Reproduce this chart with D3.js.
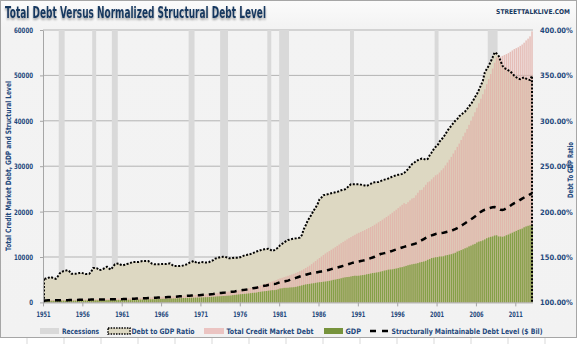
<!DOCTYPE html>
<html lang="en">
<head>
<meta charset="UTF-8">
<title>Total Debt Versus Normalized Structural Debt Level</title>
<style>
  body { margin: 0; background: #ffffff; }
  svg text {
    font-family: "Liberation Sans Narrow", "DejaVu Sans Condensed", "Open Sans", sans-serif;
    font-weight: bold;
    fill: #1f497d;
  }
  .tick text { font-size: 7.5px; }
  .legend text { font-size: 7.5px; }
  .grid line { stroke: #b3b3b3; stroke-width: 1; }
  .axis path, .axis line { stroke: #a6a6a6; }
</style>
</head>
<body>
<div id="chart"></div>
<script src="https://d3js.org/d3.v7.min.js"></script>
<script>
// quarterly values, one row per year starting 1951 (Q1..Q4)
var startYear = 1951;

var debtToGdp = [
  [127,126,126.5,128],[127.5,126.5,126,128.5],[132,133.5,134.5,135],[135.5,134,131.5,131.5],
  [131.5,131.8,132.3,132.7],[132,131.3,131.3,131.5],[134,137.9,137.9,137.5],[135.6,136,136.8,138],
  [139.3,137.5,136.1,139],[141.9,142.5,142.9,141.5],[140.8,141.5,142.3,142.6],[143.5,144.5,144.5,144.5],
  [144.5,145,145.6,145.6],[145.6,145.6,144,142.5],[141.9,141.9,141.9,142],[142.3,142.3,142.3,142.5],
  [143,141.5,140,140],[140,140,140.2,140.8],[141.5,142.5,143.8,144.5],[145.6,144.5,143,143.8],
  [144.5,144.2,143.9,143.8],[144.5,145.6,146.5,148.2],[148.8,149.5,150,150.2],[150.3,149.5,148.5,148.6],
  [149,149.3,149.3,149.3],[150,151,151.8,152.2],[152.9,153.4,154,155],[156,156.6,157.5,158.2],
  [158.5,158.8,159.1,158],[156.6,157.5,159,160.3],[163,164.5,166,167.5],[168.7,169.2,169.8,170.2],
  [170.5,171,171.3,174],[180.5,185,190,193.4],[197,201,204.4,208],[213.6,215.5,218,218.5],
  [219,219.6,220.2,220.8],[221.2,221.7,222.5,223.5],[224.2,224.6,226,228.5],[230.1,230.1,230.1,230.1],
  [230.1,229.7,229.2,228.8],[228.3,229.5,230.5,232],[232.2,232.4,232.7,233.5],[234.5,235.2,235.7,236.5],
  [237.5,238.5,239.3,240],[240.6,240.8,241.5,242.5],[244.5,246.7,249.5,252.2],[253.5,255.5,256.6,257.5],
  [258.5,258,257,258],[262,265.1,268.5,271.3],[273,277,279.5,282],[285.3,289,292,294.5],
  [297.5,300,302,305],[306.6,308.5,310.3,313],[316,318.4,322,326],[329.4,334,339,344],
  [353.3,357,360.6,365],[369.9,375.4,374,371.7],[366,360.6,358,357],[355.5,354.4,352,349.6],
  [348,346.5,345.9,347],[347.8,346.5,345.5,344.8],[349.6]
];

var creditMarketDebt = [
  [485,490,495,500],[509,518,526,535],[543,550,558,565],[572,580,588,595],
  [609,622,636,650],[659,668,676,685],[694,702,711,720],[731,742,754,765],
  [780,795,810,825],[835,845,855,865],[879,892,906,920],[936,952,969,985],
  [1003,1020,1038,1055],[1074,1092,1111,1130],[1150,1170,1190,1210],[1229,1248,1266,1285],
  [1305,1325,1345,1365],[1391,1418,1444,1470],[1494,1518,1541,1565],[1589,1612,1636,1660],
  [1698,1735,1773,1810],[1858,1905,1953,2000],[2058,2115,2173,2230],[2285,2340,2395,2450],
  [2508,2565,2623,2680],[2758,2835,2913,2990],[3085,3180,3275,3370],[3483,3595,3708,3820],
  [4050,4180,4310,4450],[4600,4750,4900,5100],[5286,5423,5561,5698],[5850,6001,6152,6303],
  [6493,6683,6873,7062],[7321,7579,7838,8096],[8435,8773,9111,9449],[9777,10104,10431,10758],
  [11033,11308,11583,11858],[12153,12447,12741,13035],[13313,13591,13869,14146],[14394,14641,14889,15136],
  [15334,15532,15730,15928],[16151,16374,16597,16819],[17094,17369,17644,17919],[18211,18502,18794,19085],
  [19415,19745,20075,20405],[20768,21131,21494,21857],[21668,22074,22481,22887],[23024,23588,24153,24717],
  [24800,25353,25908,26461],[26653,27101,27550,27999],[28200,28600,29100,29540],[30168,30795,31423,32050],
  [32780,33510,34240,34970],[35775,36580,37385,38190],[39110,40030,40950,41870],[42865,43860,44855,45850],
  [46960,48070,49190,50300],[51500,52800,54000,54300],[54100,54300,54500,54700],[54900,55200,55500,55800],
  [56000,56200,56500,56800],[57200,57700,58100,58600],[59700]
];

var gdp = [
  [336,344,351,357],[360,361,368,381],[389,392,391,385],[386,386,391,400],
  [413,422,431,438],[441,447,452,462],[470,473,480,475],[467,471,485,499],
  [511,524,525,529],[543,542,546,541],[545,555,567,580],[594,603,610,613],
  [622,630,644,652],[669,679,692,698],[718,731,750,773],[797,806,820,832],
  [845,850,866,882],[910,935,950,965],[988,1003,1023,1031],[1038,1051,1068,1068],
  [1107,1124,1142,1152],[1185,1218,1243,1282],[1327,1357,1382,1420],[1435,1465,1494,1525],
  [1610,1650,1709,1758],[1812,1843,1877,1922],[1973,2035,2098,2130],[2166,2284,2338,2409],
  [2461,2510,2578,2632],[2700,2699,2770,2877],[3066,3110,3201,3216],[3233,3292,3320,3357],
  [3423,3531,3643,3752],[3865,3964,4031,4086],[4171,4222,4311,4383],[4449,4486,4555,4598],
  [4668,4749,4838,4965],[5025,5128,5204,5316],[5437,5523,5586,5620],[5722,5817,5876,5857],
  [5885,5955,6024,6080],[6193,6271,6361,6466],[6511,6591,6653,6774],[6877,7009,7087,7212],
  [7248,7282,7385,7465],[7565,7707,7775,7902],[8040,8183,8296,8393],[8480,8543,8660,8811],
  [8912,9011,9155,9384],[9537,9772,9842,9945],[9981,10106,10115,10161],[10339,10428,10535,10624],
  [10767,10921,11194,11358],[11526,11710,11915,12082],[12338,12506,12726,12889],[13200,13390,13486,13667],
  [13874,14135,14310,14444],[14534,14735,14789,14525],[14518,14459,14571,14795],[14943,15161,15348,15558],
  [15749,15964,16111,16257],[16543,16732,16876,16978],[17000]
];

var structuralDebt = [
  [440,445,450,455],[460,465,470,480],[490,495,500,500],[500,505,510,520],
  [535,550,560,570],[580,590,600,610],[620,625,635,630],[625,630,645,660],
  [680,695,700,705],[720,720,725,720],[725,740,760,780],[800,815,830,840],
  [855,870,890,905],[925,945,965,980],[1005,1025,1055,1090],[1125,1140,1160,1180],
  [1200,1210,1235,1260],[1300,1340,1365,1390],[1425,1450,1480,1495],[1510,1535,1560,1565],
  [1625,1660,1690,1710],[1760,1815,1860,1920],[1990,2040,2080,2140],[2170,2220,2270,2320],
  [2360,2420,2510,2590],[2670,2720,2770,2840],[2920,3015,3110,3160],[3215,3390,3475,3580],
  [3665,3740,3845,3925],[4030,4030,4135,4290],[4450,4500,4600,4700],[4800,4950,5100,5250],
  [5400,5550,5700,5830],[5950,6080,6200,6330],[6420,6500,6580,6660],[6740,6820,6900,6990],
  [7090,7200,7320,7440],[7560,7680,7800,7920],[8050,8180,8320,8460],[8600,8750,8850,8920],
  [9000,9100,9200,9300],[9450,9600,9750,9900],[10050,10250,10450,10650],[10750,10850,10950,11050],
  [11200,11350,11500,11650],[11800,11950,12100,12230],[12360,12480,12600,12720],[12850,13000,13200,13450],
  [13700,13950,14200,14450],[14600,14750,14900,15050],[15150,15250,15300,15350],[15450,15550,15650,15750],
  [15950,16150,16350,16600],[16850,17150,17450,17750],[18050,18300,18600,18900],[19250,19600,19950,20200],
  [20400,20550,20700,20850],[20950,21000,20900,20600],[20400,20350,20500,20750],[21000,21300,21600,21850],
  [22050,22300,22600,22850],[23100,23350,23550,23800],[24050]
];

var recessions = [
  [1953.0,1953.75],[1957.25,1957.75],[1959.75,1960.5],[1969.5,1970.25],[1973.5,1974.5],
  [1979.5,1980.0],[1981.0,1982.25],[1990.0,1990.5],[2000.75,2001.25],[2007.5,2008.75]
];

var tickYears = [1951,1956,1961,1966,1971,1976,1981,1986,1991,1996,2001,2006,2011];
var leftTicks = [0,10000,20000,30000,40000,50000,60000];
var rightTicks = [100,150,200,250,300,350,400];

var legendItems = ['Recessions','Debt to GDP Ratio','Total Credit Market Debt','GDP',
  'Structurally Maintainable Debt Level ($ Bil)'];

function toQuarters(rows) {
  var out = [];
  rows.forEach(function(r, i) {
    r.forEach(function(v, q) { out.push({ t: startYear + i + q / 4, v: v }); });
  });
  return out;
}

var ratioQ = toQuarters(debtToGdp);
var debtQ = toQuarters(creditMarketDebt);
var gdpQ = toQuarters(gdp);
var structQ = toQuarters(structuralDebt);

var width = 580, height = 344;
var plotLeft = 43, plotRight = 533, plotTop = 30, plotBottom = 302.4;

var x = d3.scaleLinear().domain([1951, 2013.25]).range([plotLeft, plotRight]);
var y = d3.scaleLinear().domain([0, 60000]).range([plotBottom, plotTop]);
var y2 = d3.scaleLinear().domain([100, 400]).range([plotBottom, plotTop]);
var band = x(startYear + 0.25) - x(startYear);

var svg = d3.select('#chart').append('svg')
  .attr('width', width)
  .attr('height', height);

// sheet cells under the chart
var cellX = [27,64,101,138,175,212,249,286,323,360,397,434,471,508,545];
svg.selectAll('.cell').data(cellX).enter().append('line')
  .attr('x1', function(d) { return d; }).attr('x2', function(d) { return d; })
  .attr('y1', 338).attr('y2', height)
  .attr('stroke', '#d9d9d9');

var defs = svg.append('defs');
var grad = defs.append('linearGradient').attr('id', 'bg').attr('x1', 0).attr('x2', 0).attr('y1', 0).attr('y2', 1);
grad.append('stop').attr('offset', '0%').attr('stop-color', '#fbfbfb');
grad.append('stop').attr('offset', '8%').attr('stop-color', '#f3f3f3');
grad.append('stop').attr('offset', '100%').attr('stop-color', '#f2f2f2');
var shadow = defs.append('filter').attr('id', 'shadow').attr('x', '-5%').attr('y', '-20%').attr('width', '110%').attr('height', '180%');
shadow.append('feGaussianBlur').attr('in', 'SourceAlpha').attr('stdDeviation', 1.2).attr('result', 'b');
shadow.append('feOffset').attr('in', 'b').attr('dy', 2).attr('result', 'o');
shadow.append('feComponentTransfer').attr('in', 'o').attr('result', 's')
  .append('feFuncA').attr('type', 'linear').attr('slope', 0.35);
var merge = shadow.append('feMerge');
merge.append('feMergeNode').attr('in', 's');
merge.append('feMergeNode').attr('in', 'SourceGraphic');

svg.append('rect')
  .attr('x', 0.5).attr('y', 0.5)
  .attr('width', 576).attr('height', 337)
  .attr('fill', 'url(#bg)')
  .attr('stroke', '#a6a6a6');

// title
svg.append('text')
  .attr('x', 5).attr('y', 18)
  .attr('textLength', 261).attr('lengthAdjust', 'spacingAndGlyphs')
  .style('font-size', '15px')
  .style('fill', '#17375e')
  .attr('filter', 'url(#shadow)')
  .text('Total Debt Versus Normalized Structural Debt Level');
svg.append('text')
  .attr('x', 570).attr('y', 14)
  .attr('text-anchor', 'end')
  .style('font-size', '6.6px')
  .style('fill', '#17375e')
  .text('STREETTALKLIVE.COM');

// gridlines
svg.append('g').attr('class', 'grid')
  .selectAll('line').data(leftTicks.slice(1)).enter().append('line')
  .attr('x1', plotLeft).attr('x2', plotRight)
  .attr('y1', function(d) { return y(d); }).attr('y2', function(d) { return y(d); });

// recessions
svg.selectAll('.recession').data(recessions).enter().append('rect')
  .attr('class', 'recession')
  .attr('x', function(d) { return x(d[0]); })
  .attr('width', function(d) { return x(d[1]) - x(d[0]); })
  .attr('y', plotTop).attr('height', plotBottom - plotTop)
  .attr('fill', '#d9d9d9');

// debt to GDP ratio area
var area = d3.area()
  .x(function(d) { return x(d.t + 0.125); })
  .y0(plotBottom)
  .y1(function(d) { return y2(d.v); });
svg.append('path').datum(ratioQ)
  .attr('d', area)
  .attr('fill', '#ddd8c2');

// total credit market debt bars
svg.selectAll('.debt').data(debtQ).enter().append('rect')
  .attr('class', 'debt')
  .attr('x', function(d) { return x(d.t) + 0.25; })
  .attr('width', band - 0.5)
  .attr('y', function(d) { return y(d.v); })
  .attr('height', function(d) { return plotBottom - y(d.v); })
  .attr('fill', '#e2aea6')
  .attr('fill-opacity', 0.78);

// GDP bars
svg.selectAll('.gdp').data(gdpQ).enter().append('rect')
  .attr('class', 'gdp')
  .attr('x', function(d) { return x(d.t) + 0.25; })
  .attr('width', band - 0.5)
  .attr('y', function(d) { return y(d.v); })
  .attr('height', function(d) { return plotBottom - y(d.v); })
  .attr('fill', '#84a047');

// structural debt level
var line = d3.line()
  .x(function(d) { return x(d.t + 0.125); })
  .y(function(d) { return y(d.v); });
svg.append('path').datum(structQ)
  .attr('d', line)
  .attr('fill', 'none')
  .attr('stroke', '#000')
  .attr('stroke-width', 2.5)
  .attr('stroke-dasharray', '6,5');

// ratio outline, dotted, with the area's side edges
var ratioLine = d3.line()
  .x(function(d) { return x(d.t + 0.125); })
  .y(function(d) { return y2(d.v); });
var first = ratioQ[0], last = ratioQ[ratioQ.length - 1];
svg.append('path')
  .attr('d', 'M' + x(first.t + 0.125) + ',' + plotBottom + 'L' + ratioLine(ratioQ).slice(1) +
    'L' + x(last.t + 0.125) + ',' + plotBottom)
  .attr('fill', 'none')
  .attr('stroke', '#000')
  .attr('stroke-width', 2)
  .attr('stroke-dasharray', '2,1.6');

// axes
var xAxis = svg.append('g').attr('class', 'axis')
  .attr('transform', 'translate(0,' + plotBottom + ')')
  .call(d3.axisBottom(x).tickValues(tickYears).tickFormat(d3.format('d')).tickSize(4).tickSizeOuter(0));
xAxis.select('.domain').attr('d', 'M' + plotLeft + ',0.5H' + plotRight);
xAxis.selectAll('text').attr('dy', '1.05em')
  .attr('textLength', 14).attr('lengthAdjust', 'spacingAndGlyphs');

var yAxis = svg.append('g').attr('class', 'axis')
  .attr('transform', 'translate(' + plotLeft + ',0)')
  .call(d3.axisLeft(y).tickValues(leftTicks).tickFormat(d3.format('d')).tickSize(3).tickSizeOuter(0));
yAxis.selectAll('text').attr('x', -10)
  .attr('textLength', function(d) { return String(d).length * 3.8; })
  .attr('lengthAdjust', 'spacingAndGlyphs');

var y2Axis = svg.append('g').attr('class', 'axis')
  .attr('transform', 'translate(' + plotRight + ',0)')
  .call(d3.axisRight(y2).tickValues(rightTicks).tickFormat(function(d) { return d.toFixed(2) + '%'; })
    .tickSize(0).tickSizeOuter(0));
y2Axis.select('.domain').remove();
y2Axis.selectAll('text').attr('x', 7);

// axis titles
svg.append('text')
  .attr('transform', 'translate(11,166) rotate(-90)')
  .attr('text-anchor', 'middle')
  .attr('textLength', 170).attr('lengthAdjust', 'spacingAndGlyphs')
  .style('font-size', '7.5px')
  .text('Total Credit Market Debt, GDP and Structural Level');
svg.append('text')
  .attr('transform', 'translate(573,170) rotate(-90)')
  .attr('text-anchor', 'middle')
  .attr('textLength', 56).attr('lengthAdjust', 'spacingAndGlyphs')
  .style('font-size', '7.5px')
  .text('Debt To GDP Ratio');

// legend
var legendY = 331;
var legend = svg.append('g').attr('class', 'legend');
legend.append('rect').attr('x', 40).attr('y', legendY - 3).attr('width', 19).attr('height', 6).attr('fill', '#d9d9d9');
legend.append('rect').attr('x', 108).attr('y', legendY - 3).attr('width', 22).attr('height', 6)
  .attr('fill', '#ddd8c2').attr('stroke', '#000').attr('stroke-width', 1.5).attr('stroke-dasharray', '1.5,1.2');
legend.append('rect').attr('x', 204).attr('y', legendY - 3).attr('width', 20).attr('height', 6).attr('fill', '#ebc4c2');
legend.append('rect').attr('x', 324).attr('y', legendY - 3).attr('width', 19).attr('height', 6).attr('fill', '#77933c');
legend.append('line').attr('x1', 370).attr('x2', 388).attr('y1', legendY).attr('y2', legendY)
  .attr('stroke', '#000').attr('stroke-width', 2.5).attr('stroke-dasharray', '6,6');
var legendText = [[62, 37], [131.5, 63], [226.5, 87], [345.5, 15.5], [391.5, 151]];
legend.selectAll('text').data(legendItems).enter().append('text')
  .attr('x', function(d, i) { return legendText[i][0]; })
  .attr('y', legendY + 2.6)
  .attr('textLength', function(d, i) { return legendText[i][1]; })
  .attr('lengthAdjust', 'spacingAndGlyphs')
  .text(function(d) { return d; });
</script>
</body>
</html>
